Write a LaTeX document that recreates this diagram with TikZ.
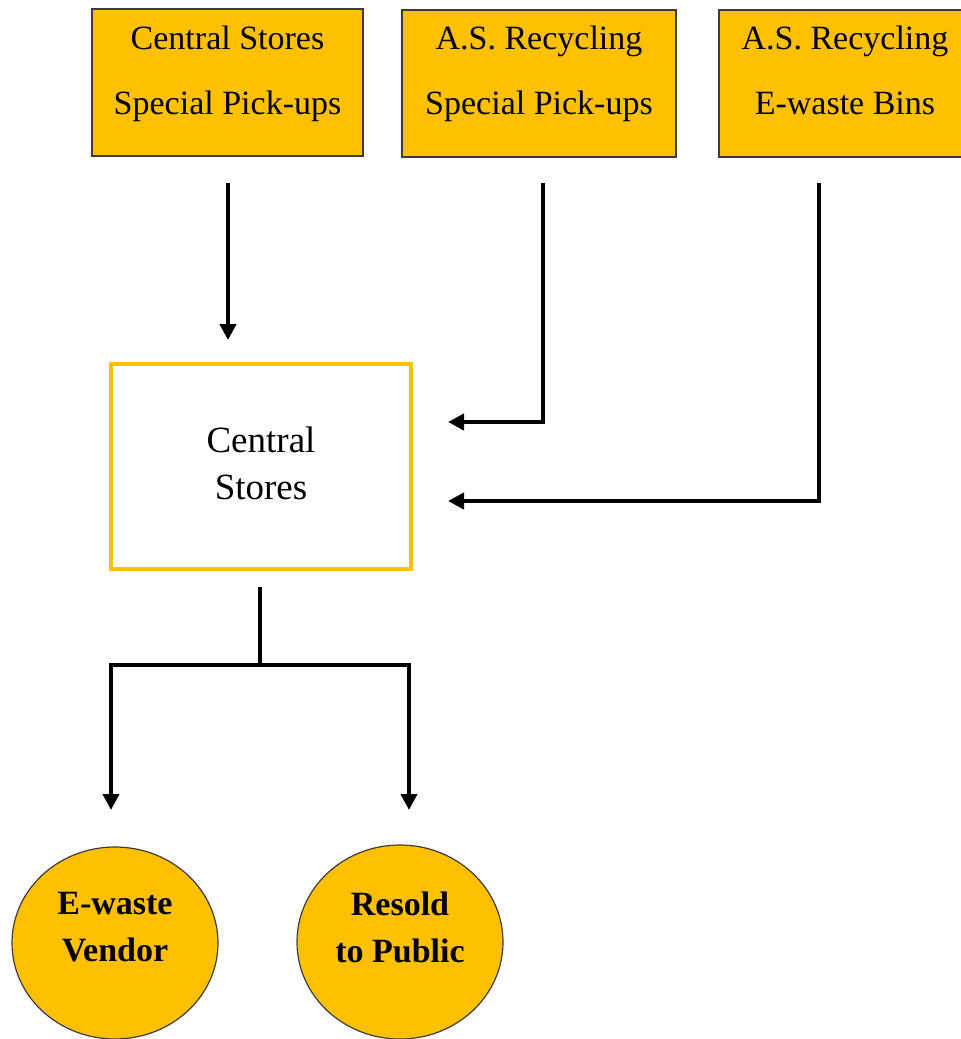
\documentclass[tikz,border=0pt]{standalone}
\usepackage{fontspec}
\setmainfont{Liberation Serif}
\usetikzlibrary{arrows.meta,shapes.geometric}
\definecolor{gold}{HTML}{FFC000}
\definecolor{edgegray}{HTML}{3C3C3C}
\begin{document}
\begin{tikzpicture}[x=1pt,y=-1pt,
  srcbox/.style={rectangle,draw=edgegray,line width=1.5pt,fill=gold,inner sep=0pt},
  srctext/.style={align=center,inner sep=0pt,font=\fontsize{34}{65}\selectfont},
  hubbox/.style={rectangle,draw=gold,line width=4pt,fill=white,inner sep=0pt,minimum width=300pt,minimum height=205pt},
  hubtext/.style={align=center,inner sep=0pt,font=\fontsize{37}{47}\selectfont},
  sinkshape/.style={ellipse,draw=edgegray,line width=1.2pt,fill=gold,inner sep=0pt},
  sinktext/.style={align=center,inner sep=0pt,font=\bfseries\fontsize{34}{47}\selectfont},
  ln/.style={line width=4.3pt},
  arr/.style={line width=4.3pt,-{Triangle[width=16pt,length=16pt]}}
]
\useasboundingbox (0,0) rectangle (961,1039);
\clip (0,0) rectangle (961,1039);

% source boxes
\node[srcbox,minimum width=271pt,minimum height=147pt] (b1) at (227.5,82.5) {};
\node[srctext] (t1) at (227.5,73.5) {Central Stores\\Special Pick-ups};
\node[srcbox,minimum width=274pt,minimum height=147pt] (b2) at (539,83.5) {};
\node[srctext] (t2) at (539,73.5) {A.S. Recycling\\Special Pick-ups};
\node[srcbox,minimum width=252pt,minimum height=147pt] (b3) at (845,83.5) {};
\node[srctext] (t3) at (845,73.5) {A.S. Recycling\\E-waste Bins\vphantom{p}};

% hub
\node[hubbox] (cs) at (261,466.5) {};
\node[hubtext] (cst) at (261,463.5) {Central\\Stores};

% sinks
\node[sinkshape,minimum width=206pt,minimum height=192pt] (v) at (115,943) {};
\node[sinktext] (vt) at (115,927) {E-waste\\Vendor};
\node[sinkshape,minimum width=206pt,minimum height=194pt] (p) at (400,942) {};
\node[sinktext] (pt) at (400,927) {Resold\\to Public};

% connector coordinates
\coordinate (a1s) at (228,183);
\coordinate (a1e) at (228,340);
\coordinate (a2s) at (543,183);
\coordinate (a2e) at (448,422);
\coordinate (a3s) at (819,183);
\coordinate (a3e) at (448,501);
\coordinate (stem) at (260,587);
\coordinate (fork) at (260,665);
\coordinate (ta) at (111,810);
\coordinate (tb) at (409,810);

\draw[arr] (a1s) -- (a1e);
\draw[arr] (a2s) |- (a2e);
\draw[arr] (a3s) |- (a3e);
\draw[ln] (stem) -- (fork);
\draw[arr] (fork) -| (ta);
\draw[arr] (fork) -| (tb);
\end{tikzpicture}
\end{document}
